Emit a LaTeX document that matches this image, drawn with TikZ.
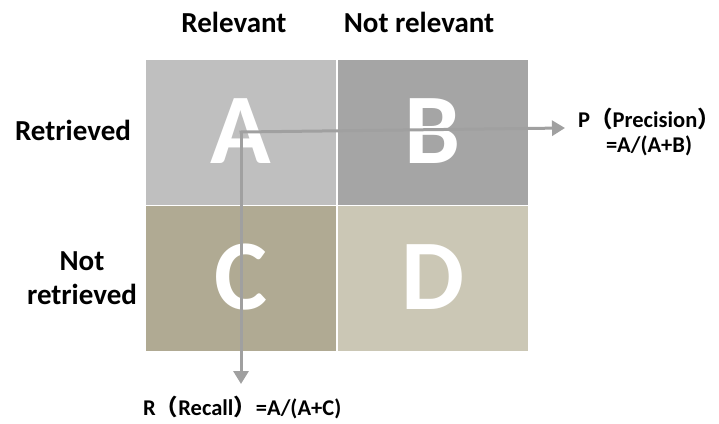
\documentclass[tikz,border=0pt]{standalone}
\usepackage{fontspec}
\setmainfont{Carlito}
\newfontfamily\cjk{Noto Sans CJK SC}
\usetikzlibrary{arrows.meta}
\definecolor{cA}{HTML}{BFBFBF}
\definecolor{cB}{HTML}{A5A5A5}
\definecolor{cC}{HTML}{B0AA93}
\definecolor{cD}{HTML}{CBC7B5}
\definecolor{lineg}{HTML}{A0A0A0}
\newcommand{\lpar}{{\cjk （}}
\newcommand{\rparend}{{\cjk\makebox[0.4em][l]{）}}}
\tikzset{
  cell/.style={inner sep=0pt, minimum width=190pt, minimum height=144.5pt, anchor=north west},
  bigletter/.style={text=white, font=\fontsize{100}{100}\selectfont\bfseries, anchor=base, inner sep=0pt},
  head/.style={font=\fontsize{29}{34}\selectfont\bfseries, anchor=base, inner sep=0pt},
  formula/.style={font=\fontsize{22.5}{25}\selectfont\bfseries, inner sep=0pt},
  conn/.style={draw=lineg, line width=3pt, -{Triangle[length=13pt,width=15pt]}}
}
\begin{document}
\begin{tikzpicture}[x=1pt,y=-1pt]
\useasboundingbox (0,0) rectangle (719,423);
% cells
\node[cell, fill=cA] (cellA) at (146,60) {};
\node[cell, fill=cB] (cellB) at (338,60) {};
\node[cell, fill=cC] (cellC) at (146,206) {};
\node[cell, fill=cD] (cellD) at (338,206) {};
% big letters
\node[bigletter] (lA) at (241,163) {A};
\node[bigletter] (lB) at (433,163) {B};
\node[bigletter] (lC) at (241,309) {C};
\node[bigletter] (lD) at (433,309) {D};
% headings
\node[head] (hRel) at (234,32) {Relevant};
\node[head] (hNot) at (419,32) {Not relevant};
\node[head] (hRet) at (73,140) {Retrieved};
\node[head] (hNR1) at (82,270) {Not};
\node[head] (hNR2) at (82,304) {retrieved};
% formulas
\node[formula, anchor=base west] (pl1) at (578,127) {P\lpar Precision\rparend};
\node[formula, anchor=base] (pl2) at (649,152) {=A/(A+B)};
\node[formula, anchor=base west] (rl) at (143,415) {R\lpar Recall{\cjk ）}=A/(A+C)};
% connectors
\coordinate (src) at (241,132);
\coordinate (pend) at (565,128);
\coordinate (rend) at (241,384);
\draw[conn, line cap=rect] (src) -- (pend);
\draw[conn] (src) -- (rend);
\end{tikzpicture}
\end{document}
